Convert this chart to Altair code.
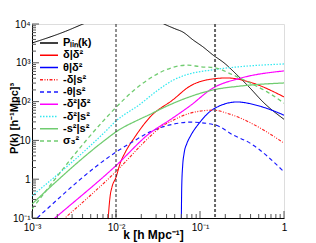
import altair as alt
import pandas as pd

# ---------------- data ----------------
series_names = ["Pₗᵢₙ(k)", "δ|δ²", "θ|δ²", "-δ|s²", "-θ|s²", "-δ²|δ²", "-δ²|s²", "-s²|s²", "σ₃²"]
series_colors = ["#000000", "#ff0000", "#0000ff", "#ff2020", "#1a1aff", "#ff00ff", "#33e8f0", "#70cc70", "#70cc70"]
series_dash = [[1, 0], [1, 0], [1, 0], [3, 1.5, 1, 1.5, 1, 1.5], [4, 3], [1, 0], [1.5, 1.5], [1, 0], [4, 3]]
series_width = [1.0, 1.3, 1.3, 1.2, 1.3, 1.3, 1.7, 1.3, 1.3]

k_plin = [0.001, 0.0025, 0.00405, 0.00646, 0.01, 0.0159, 0.0254, 0.0373, 0.05, 0.0628, 0.0826, 0.1086, 0.143, 0.193, 0.275, 0.394, 0.562, 1.0]
p_plin = [3236, 6457, 10000, 14790, 19055, 20893, 15849, 10000, 7586, 6166, 3890, 2570, 1585, 1000, 490, 224, 98, 35]

k_dd2 = [0.00787, 0.00815, 0.0085, 0.00896, 0.01, 0.01116, 0.0128, 0.0168, 0.0254, 0.0478, 0.076, 0.121, 0.21, 0.394, 1.0]
p_dd2 = [0.0316, 0.126, 0.355, 0.631, 1.12, 2.51, 4.79, 12.3, 39.8, 112, 251, 363, 407, 316, 132]

k_td2 = [0.0597, 0.0606, 0.0622, 0.0645, 0.07, 0.076, 0.1, 0.143, 0.275, 0.518, 1.0]
p_td2 = [0.0316, 0.631, 2.24, 4.47, 8.51, 12.3, 29.5, 63.1, 97.7, 75.9, 44.7]

k_ds2 = [0.001, 0.00247, 0.01, 0.0254, 0.0334, 0.0478, 0.076, 0.143, 0.21, 0.299, 0.518, 1.0]
p_ds2 = [0.0178, 0.1, 1.58, 12.6, 21.4, 33.1, 50.1, 60.3, 50.1, 38.0, 20.9, 8.51]

k_ts2 = [0.001, 0.00115, 0.01, 0.0168, 0.0254, 0.044, 0.076, 0.151, 0.248, 0.394, 1.0]
p_ts2 = [0.0759, 0.1, 5.01, 10.0, 16.6, 25.1, 29.5, 25.1, 13.8, 8.51, 1.55]

k_d2d2 = [0.001, 0.00188, 0.01, 0.0254, 0.044, 0.076, 0.143, 0.299, 1.0]
p_d2d2 = [0.031, 0.1, 2.24, 15.5, 33.9, 77.6, 224, 398, 617]

k_d2s2 = [0.001, 0.0074, 0.01, 0.0193, 0.0318, 0.0478, 0.0663, 0.143, 0.299, 1.0]
p_d2s2 = [0.372, 16.6, 31.6, 85.1, 200, 355, 479, 661, 794, 933]

k_s2s2 = [0.001, 0.0074, 0.01, 0.0193, 0.0254, 0.0334, 0.0663, 0.143, 0.299, 1.0]
p_s2s2 = [0.229, 10.2, 16.6, 35.5, 46.8, 63.1, 120, 200, 251, 302]

k_sig = [0.001, 0.0074, 0.01, 0.0159, 0.0254, 0.0334, 0.0719, 0.1, 0.151, 0.245, 0.394, 0.63, 1.0]
p_sig = [0.17, 35.5, 70.8, 186, 398, 562, 871, 794, 741, 490, 302, 178, 91.2]

vline_k = [0.01, 0.151]

x_tick_values = [0.001, 0.01, 0.1, 1]
x_tick_labels = ["10⁻³", "10⁻²", "10⁻¹", "1"]
y_tick_values = [0.1, 1, 10, 100, 1000, 10000]
y_tick_labels = ["10⁻¹", "1", "10", "10²", "10³", "10⁴"]
x_minor = [m * 10.0 ** e for e in (-3, -2, -1) for m in range(2, 10)]
y_minor = [m * 10.0 ** e for e in (-1, 0, 1, 2, 3) for m in range(2, 10)]

# ---------------- build table ----------------
ks = [k_plin, k_dd2, k_td2, k_ds2, k_ts2, k_d2d2, k_d2s2, k_s2s2, k_sig]
ps = [p_plin, p_dd2, p_td2, p_ds2, p_ts2, p_d2d2, p_d2s2, p_s2s2, p_sig]
rows = []
for i, (name, kk, pp) in enumerate(zip(series_names, ks, ps)):
    for k, p in zip(kk, pp):
        rows.append({"name": name, "order": i, "k": k, "P": p})
df = pd.DataFrame(rows)
legend_df = pd.DataFrame({"name": series_names})

W, H = 252, 194
xscale = alt.Scale(type="log", domain=[0.001, 1], nice=False)
yscale = alt.Scale(type="log", domain=[0.1, 10000], nice=False)
color_scale = alt.Scale(domain=series_names, range=series_colors)
dash_scale = alt.Scale(domain=series_names, range=series_dash)
width_scale = alt.Scale(domain=series_names, range=series_width)

def label_expr(vals, labs):
    return ("[" + ",".join("'" + s + "'" for s in labs) + "][indexof(["
            + ",".join(repr(v) for v in vals) + "], datum.value)]")

xaxis = alt.Axis(values=x_tick_values, labelExpr=label_expr(x_tick_values, x_tick_labels),
                 ticks=False, grid=False, domainColor="black", domainWidth=1,
                 labelFont="Liberation Sans", labelFontSize=10, labelColor="black",
                 labelPadding=4, labelFlush=False, labelOverlap=False,
                 title="k [h Mpc⁻¹]", titleFont="Liberation Sans", titleFontSize=12,
                 titleFontWeight="bold", titleColor="black", titleX=121, titleY=16,
                 titleBaseline="middle", titleAlign="center")
yaxis = alt.Axis(values=y_tick_values, labelExpr=label_expr(y_tick_values, y_tick_labels),
                 ticks=False, grid=False, domainColor="black", domainWidth=1,
                 labelFont="Liberation Sans", labelFontSize=10, labelColor="black",
                 labelPadding=2, labelOverlap=False, labelFlush=False,
                 title="P(k) [h⁻¹Mpc]³", titleFont="Liberation Sans", titleFontSize=11,
                 titleFontWeight="bold", titleColor="black", titleX=-18, titleY=94,
                 titleBaseline="middle", titleAlign="center", titleAngle=270)

lines = alt.Chart(df).mark_line(clip=True, interpolate="monotone").encode(
    x=alt.X("k:Q", scale=xscale, axis=xaxis),
    y=alt.Y("P:Q", scale=yscale, axis=yaxis),
    color=alt.Color("name:N", scale=color_scale, legend=None),
    strokeDash=alt.StrokeDash("name:N", scale=dash_scale, legend=None),
    strokeWidth=alt.StrokeWidth("name:N", scale=width_scale, legend=None),
    detail="name:N",
)

vl1 = alt.Chart(pd.DataFrame({"k": vline_k[:1]})).mark_rule(color="#222", strokeWidth=1, strokeDash=[3, 2]).encode(
    x=alt.X("k:Q", scale=xscale), y=alt.value(0), y2=alt.value(H))
vl2 = alt.Chart(pd.DataFrame({"k": vline_k[1:]})).mark_rule(color="#666", strokeWidth=2, strokeDash=[3, 2]).encode(
    x=alt.X("k:Q", scale=xscale), y=alt.value(0), y2=alt.value(H))

xt_major = alt.Chart(pd.DataFrame({"k": x_tick_values})).mark_rule(color="#555", strokeWidth=1).encode(
    x=alt.X("k:Q", scale=xscale), y=alt.value(H), y2=alt.value(H - 7))
xt_minor = alt.Chart(pd.DataFrame({"k": x_minor})).mark_rule(color="#555", strokeWidth=1).encode(
    x=alt.X("k:Q", scale=xscale), y=alt.value(H), y2=alt.value(H - 4))
yt_major = alt.Chart(pd.DataFrame({"P": y_tick_values})).mark_rule(color="#555", strokeWidth=1).encode(
    y=alt.Y("P:Q", scale=yscale), x=alt.value(0), x2=alt.value(7))
yt_minor = alt.Chart(pd.DataFrame({"P": y_minor})).mark_rule(color="#555", strokeWidth=1).encode(
    y=alt.Y("P:Q", scale=yscale), x=alt.value(0), x2=alt.value(4))

main = alt.layer(lines, xt_minor, xt_major, yt_minor, yt_major, vl1, vl2)

# legend drawn from the series list, rows spaced by a point scale
leg_y = alt.Y("name:N", scale=alt.Scale(type="point", domain=series_names, range=[19, 117], padding=0), axis=None)
leg_rules = alt.Chart(legend_df).mark_rule(strokeWidth=1.6).encode(
    x=alt.value(8), x2=alt.value(26), y=leg_y,
    color=alt.Color("name:N", scale=color_scale, legend=None),
    strokeDash=alt.StrokeDash("name:N", scale=dash_scale, legend=None),
)
leg_text = alt.Chart(legend_df).mark_text(align="left", baseline="middle", font="Liberation Sans",
                                          fontSize=11, fontWeight="bold", color="black").encode(
    x=alt.value(31), y=leg_y, text="name:N")

chart = alt.layer(main, leg_rules, leg_text).resolve_scale(y="independent").properties(
    width=W, height=H,
    autosize=alt.AutoSizeParams(type="none"),
    padding={"left": 24, "top": 16, "right": 24, "bottom": 25},
).configure_view(stroke="#888", strokeWidth=1.5).configure(background="white")

chart.save("out.html", embed_options={"renderer": "svg", "actions": False})
